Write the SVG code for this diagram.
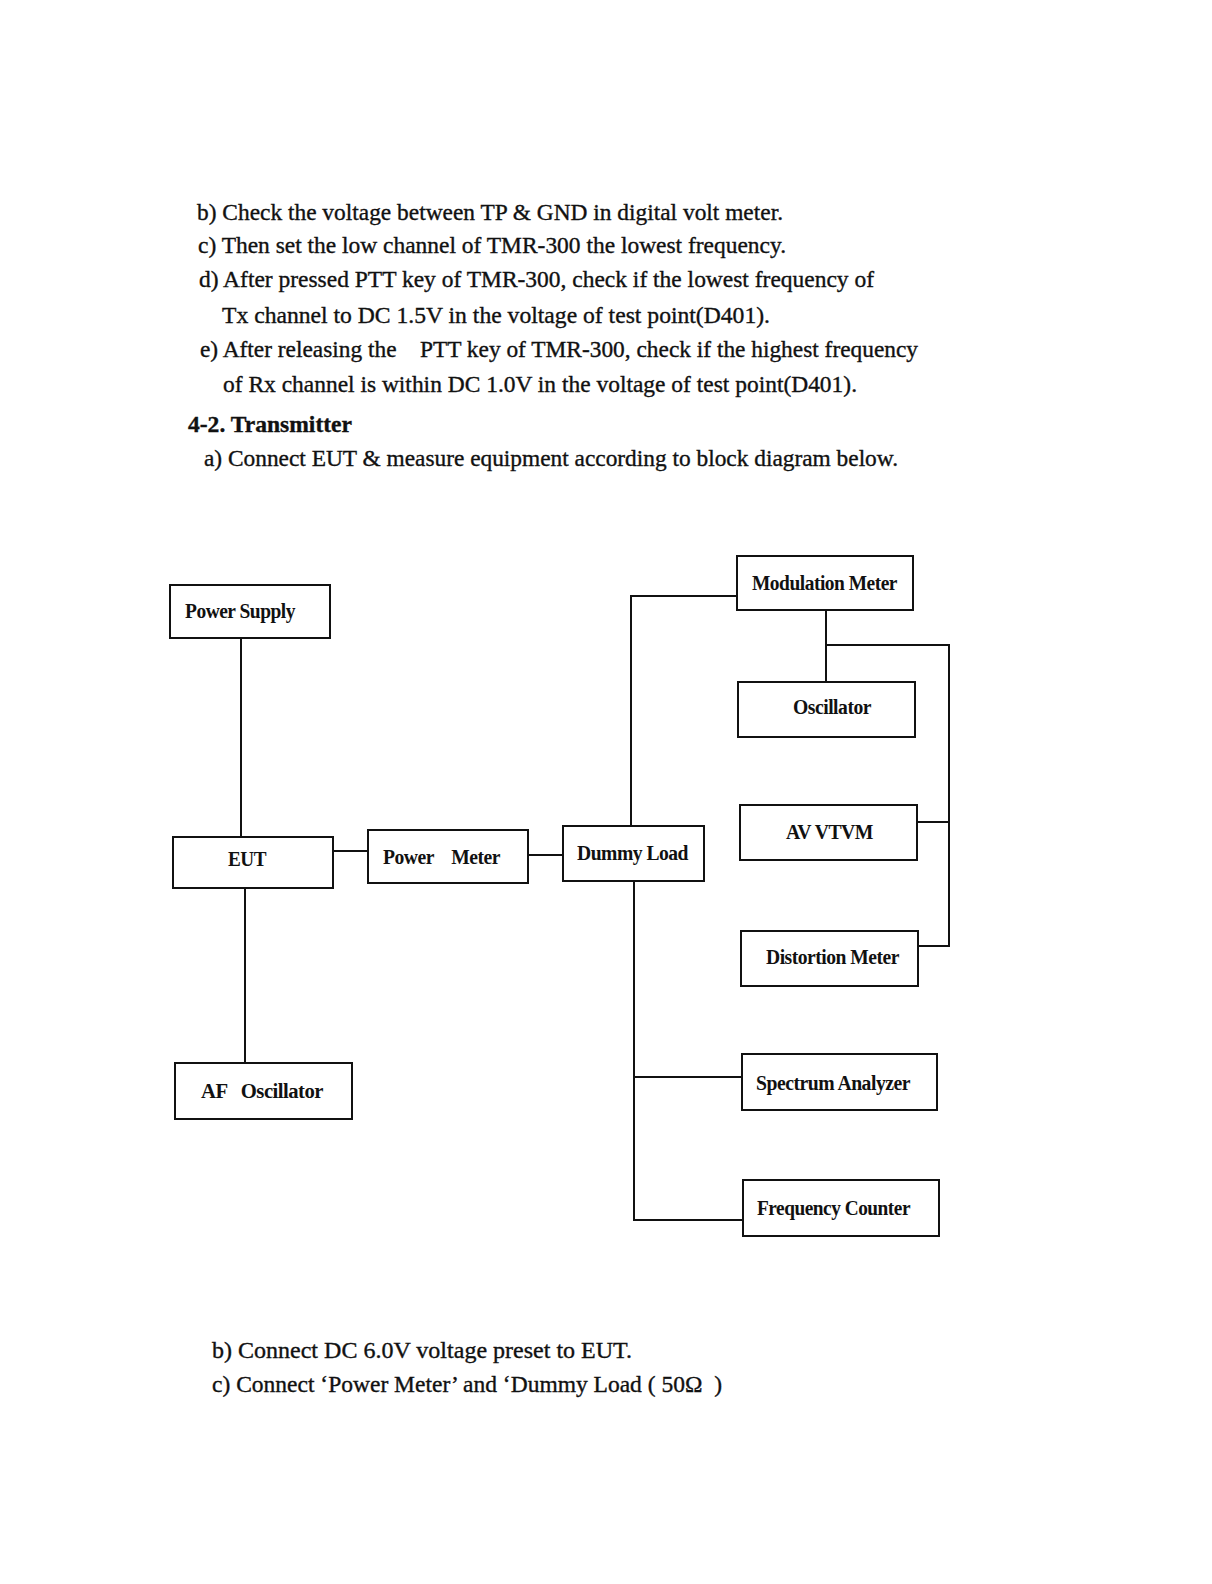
<svg xmlns="http://www.w3.org/2000/svg" width="1212" height="1584" viewBox="0 0 1212 1584">
<style>
.t{font-family:"Liberation Serif","Times New Roman",serif;font-size:23px;fill:#111;stroke:#111;stroke-width:0.35}
.b{font-weight:bold}
.n rect{fill:#fff;stroke:#111;stroke-width:2}
.n text{font-family:"Liberation Serif","Times New Roman",serif;font-size:20px;font-weight:bold;fill:#111;letter-spacing:-0.5px}
#connectors path{fill:none;stroke:#111;stroke-width:2}
</style>
<rect x="0" y="0" width="1212" height="1584" fill="#fff"/>
<g id="text-top">
<text class="t" x="197" y="220" textLength="586" lengthAdjust="spacingAndGlyphs">b) Check the voltage between TP &amp; GND in digital volt meter.</text>
<text class="t" x="198" y="253" textLength="588" lengthAdjust="spacingAndGlyphs">c) Then set the low channel of TMR-300 the lowest frequency.</text>
<text class="t" x="199" y="287" textLength="675" lengthAdjust="spacingAndGlyphs">d) After pressed PTT key of TMR-300, check if the lowest frequency of</text>
<text class="t" x="222" y="323" textLength="548" lengthAdjust="spacingAndGlyphs">Tx channel to DC 1.5V in the voltage of test point(D401).</text>
<text class="t" x="200" y="357" textLength="718" lengthAdjust="spacingAndGlyphs" xml:space="preserve">e) After releasing the    PTT key of TMR-300, check if the highest frequency</text>
<text class="t" x="223" y="392" textLength="634" lengthAdjust="spacingAndGlyphs">of Rx channel is within DC 1.0V in the voltage of test point(D401).</text>
<text class="t b" x="188" y="432" textLength="164" lengthAdjust="spacingAndGlyphs">4-2. Transmitter</text>
<text class="t" x="204" y="466" textLength="694" lengthAdjust="spacingAndGlyphs">a) Connect EUT &amp; measure equipment according to block diagram below.</text>
</g>
<g id="connectors">
<path d="M241 638 V837"/>
<path d="M245 888 V1063"/>
<path d="M333 851 H368"/>
<path d="M528 855 H563"/>
<path d="M631 826 V596 H737"/>
<path d="M826 610 V682"/>
<path d="M826 645 H949 V946 H918"/>
<path d="M917 822 H949"/>
<path d="M634 881 V1220 H743"/>
<path d="M634 1077 H742"/>
</g>
<g id="power-supply" class="n"><rect x="170" y="585" width="160" height="53"/><text x="185" y="618" textLength="110" lengthAdjust="spacingAndGlyphs">Power Supply</text></g>
<g id="modulation-meter" class="n"><rect x="737" y="556" width="176" height="54"/><text x="752" y="590" textLength="145" lengthAdjust="spacingAndGlyphs">Modulation Meter</text></g>
<g id="oscillator" class="n"><rect x="738" y="682" width="177" height="55"/><text x="793" y="714" textLength="78" lengthAdjust="spacingAndGlyphs">Oscillator</text></g>
<g id="av-vtvm" class="n"><rect x="740" y="805" width="177" height="55"/><text x="786" y="839" textLength="87" lengthAdjust="spacingAndGlyphs">AV VTVM</text></g>
<g id="distortion-meter" class="n"><rect x="741" y="931" width="177" height="55"/><text x="766" y="964" textLength="133" lengthAdjust="spacingAndGlyphs">Distortion Meter</text></g>
<g id="spectrum-analyzer" class="n"><rect x="742" y="1054" width="195" height="56"/><text x="756" y="1090" textLength="154" lengthAdjust="spacingAndGlyphs">Spectrum Analyzer</text></g>
<g id="frequency-counter" class="n"><rect x="743" y="1180" width="196" height="56"/><text x="757" y="1215" textLength="153" lengthAdjust="spacingAndGlyphs">Frequency Counter</text></g>
<g id="eut" class="n"><rect x="173" y="837" width="160" height="51"/><text x="228" y="866" textLength="38" lengthAdjust="spacingAndGlyphs">EUT</text></g>
<g id="power-meter" class="n"><rect x="368" y="830" width="160" height="53"/><text x="383" y="864" textLength="117" lengthAdjust="spacingAndGlyphs" xml:space="preserve">Power    Meter</text></g>
<g id="dummy-load" class="n"><rect x="563" y="826" width="141" height="55"/><text x="577" y="860" textLength="111" lengthAdjust="spacingAndGlyphs">Dummy Load</text></g>
<g id="af-oscillator" class="n"><rect x="175" y="1063" width="177" height="56"/><text x="201" y="1098" textLength="122" lengthAdjust="spacingAndGlyphs" xml:space="preserve">AF   Oscillator</text></g>
<g id="text-bottom">
<text class="t" x="212" y="1358" textLength="420" lengthAdjust="spacingAndGlyphs">b) Connect DC 6.0V voltage preset to EUT.</text>
<text class="t" x="212" y="1392" textLength="510" lengthAdjust="spacingAndGlyphs" xml:space="preserve">c) Connect ‘Power Meter’ and ‘Dummy Load ( 50Ω  )</text>
</g>
</svg>
